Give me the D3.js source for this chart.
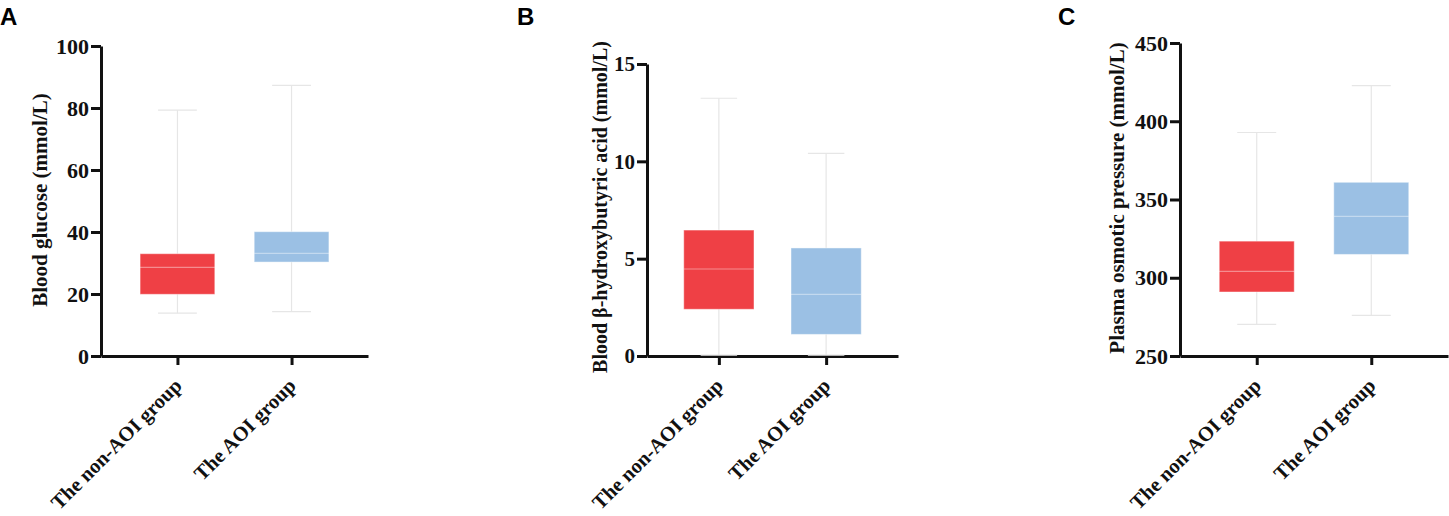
<!DOCTYPE html>
<html>
<head>
<meta charset="utf-8">
<script src="https://cdn.jsdelivr.net/npm/d3@7"></script>
<style>
  body { margin: 0; background: #fff; }
  svg { display: block; }
</style>
</head>
<body>
<div id="chart"></div>
<script>
// Groups and box stats: [min, q1, median, q3, max]
const groups = ["The non-AOI group", "The AOI group"];
const groupColors = ["#EF4045", "#9BC0E4"];

const glucoseStats = [
    [13.8, 19.9, 28.6, 33.0, 79.3],
    [14.3, 30.3, 33.1, 40.1, 87.3]
];
const hydroxyStats = [
    [0.05, 2.40, 4.47, 6.47, 13.24],
    [0.05, 1.11, 3.17, 5.55, 10.41]
];
const osmoticStats = [
    [270.2, 290.9, 304.1, 323.4, 392.8],
    [276.0, 314.9, 339.2, 361.0, 422.8]
];

const glucoseTicks = [0, 20, 40, 60, 80, 100];
const hydroxyTicks = [0, 5, 10, 15];
const osmoticTicks = [250, 300, 350, 400, 450];

const width = 1449, height = 516;

const svg = d3.select("#chart").append("svg")
    .attr("width", width)
    .attr("height", height);

// one panel per measurement
const panels = [
    { letter: "A", lx: 0, stats: glucoseStats, ticks: glucoseTicks, domain: [0, 100],
      left: 101, right: 368, top: 46, bottom: 356, fontSize: 22,
      title: "Blood glucose (mmol/L)", titleX: 47, titleY: 200, titleSize: 21 },
    { letter: "B", lx: 517, stats: hydroxyStats, ticks: hydroxyTicks, domain: [0, 15],
      left: 647, right: 898, top: 64, bottom: 356, fontSize: 21,
      title: "Blood β-hydroxybutyric acid (mmol/L)", titleX: 607, titleY: 207, titleSize: 20 },
    { letter: "C", lx: 1058, stats: osmoticStats, ticks: osmoticTicks, domain: [250, 450],
      left: 1180, right: 1448, top: 43, bottom: 356, fontSize: 22,
      title: "Plasma osmotic pressure (mmol/L)", titleX: 1124, titleY: 198, titleSize: 21 }
];

panels.forEach(p => {
    const g = svg.append("g");

    const y = d3.scaleLinear().domain(p.domain).range([p.bottom, p.top]);
    const x = d3.scalePoint().domain(groups).range([p.left, p.right]).padding(0.67);
    const step = x.step();
    const boxW = step * 0.655;
    const capW = step * 0.34;

    // panel letter
    g.append("text")
        .attr("x", p.lx)
        .attr("y", 25)
        .attr("font-family", "'Liberation Sans', Arial, sans-serif")
        .attr("font-weight", "bold")
        .attr("font-size", "24px")
        .text(p.letter);

    // y axis
    const yAxis = g.append("g")
        .attr("transform", `translate(${p.left},0)`)
        .call(d3.axisLeft(y).tickValues(p.ticks).tickSize(10).tickSizeOuter(0).tickPadding(2));
    yAxis.selectAll("path, line").attr("stroke", "#111").attr("stroke-width", 3);
    yAxis.selectAll("text")
        .attr("font-family", "'Liberation Serif', 'Times New Roman', serif")
        .attr("font-weight", "bold")
        .attr("font-size", p.fontSize + "px")
        .attr("fill", "#111");

    // x axis
    const xAxis = g.append("g")
        .attr("transform", `translate(0,${p.bottom})`)
        .call(d3.axisBottom(x).tickSize(9).tickSizeOuter(0));
    xAxis.select("path").attr("stroke", "#111").attr("stroke-width", 3);
    xAxis.selectAll("line").attr("stroke", "#111").attr("stroke-width", 3);
    xAxis.selectAll("text")
        .attr("font-family", "'Liberation Serif', 'Times New Roman', serif")
        .attr("font-weight", "bold")
        .attr("font-size", "20.5px")
        .attr("fill", "#111")
        .attr("text-anchor", "end")
        .attr("dy", null)
        .attr("y", null)
        .attr("transform", "translate(5,31) rotate(-45)");

    // boxes
    p.stats.forEach((s, i) => {
        const cx = x(groups[i]);
        const [mn, q1, med, q3, mx] = s;

        // whisker
        g.append("line")
            .attr("x1", cx).attr("x2", cx)
            .attr("y1", y(mn)).attr("y2", y(mx))
            .attr("stroke", "#e6e6e6").attr("stroke-width", 1.2);
        [mn, mx].forEach(v => {
            g.append("line")
                .attr("x1", cx - capW / 2).attr("x2", cx + capW / 2)
                .attr("y1", y(v)).attr("y2", y(v))
                .attr("stroke", "#e6e6e6").attr("stroke-width", 1.2);
        });

        g.append("rect")
            .attr("x", cx - boxW / 2)
            .attr("y", y(q3))
            .attr("width", boxW)
            .attr("height", y(q1) - y(q3))
            .attr("fill", groupColors[i])
            .attr("stroke", "rgba(255,255,255,0.45)")
            .attr("stroke-width", 1);

        g.append("line")
            .attr("x1", cx - boxW / 2).attr("x2", cx + boxW / 2)
            .attr("y1", y(med)).attr("y2", y(med))
            .attr("stroke", "rgba(255,255,255,0.4)").attr("stroke-width", 1.2);
    });

    // y axis title
    g.append("text")
        .attr("transform", `translate(${p.titleX},${p.titleY}) rotate(-90)`)
        .attr("text-anchor", "middle")
        .attr("font-family", "'Liberation Serif', 'Times New Roman', serif")
        .attr("font-weight", "bold")
        .attr("font-size", p.titleSize + "px")
        .attr("fill", "#111")
        .text(p.title);
});
</script>
</body>
</html>
